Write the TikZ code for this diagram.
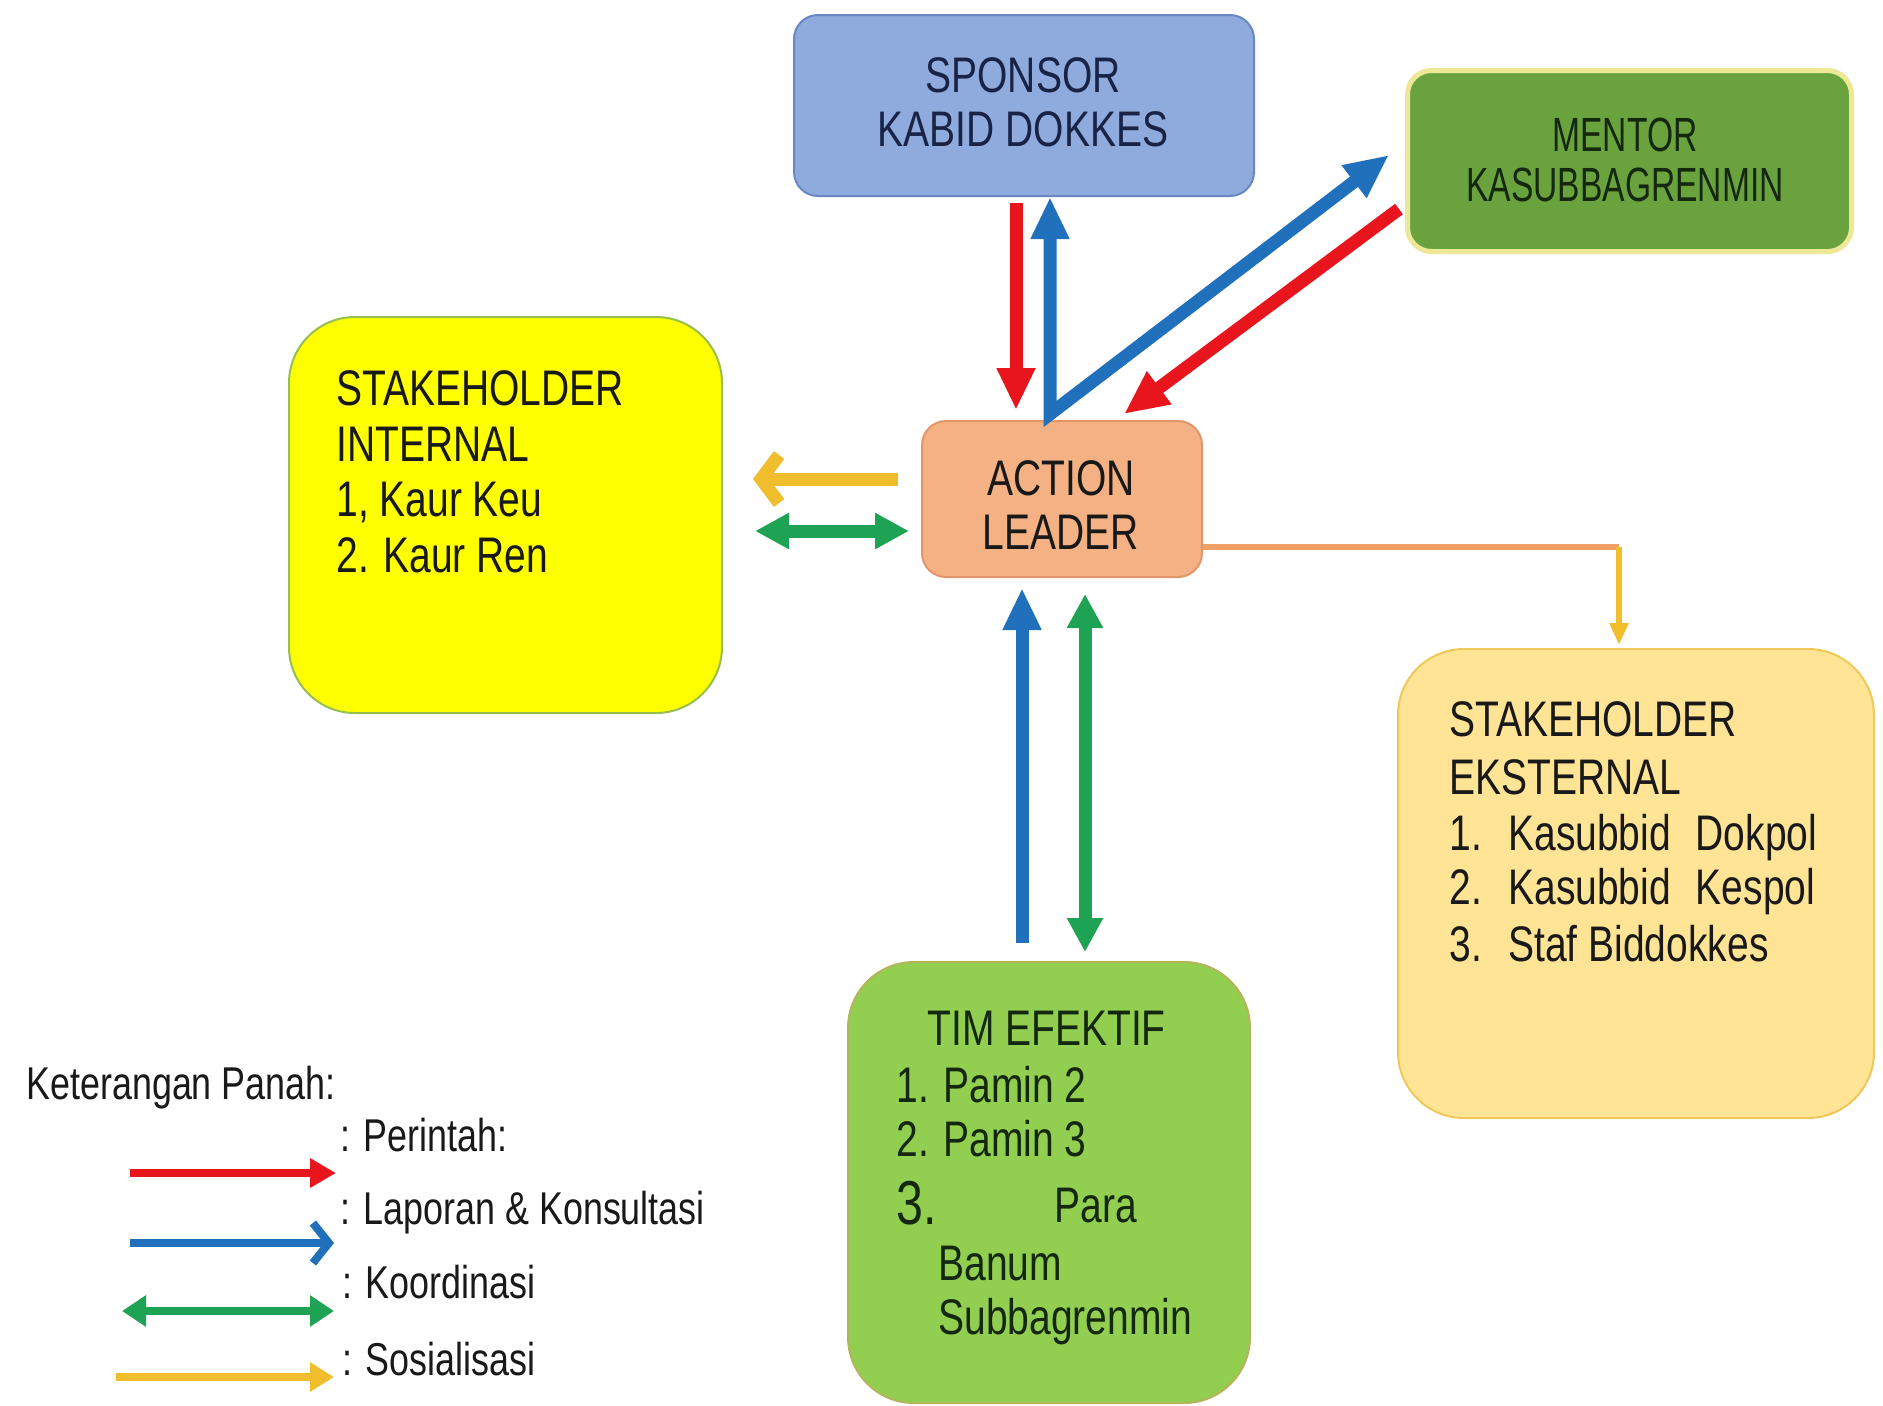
\documentclass[tikz,border=0pt]{standalone}
\usepackage{fontspec}
\setmainfont[FakeStretch=0.78]{Liberation Sans}
\newfontfamily\narrowfont[FakeStretch=0.70]{Liberation Sans}
\usetikzlibrary{arrows.meta,calc}
\definecolor{redA}{RGB}{232,22,28}
\definecolor{blueA}{RGB}{32,112,188}
\definecolor{greenA}{RGB}{30,162,84}
\definecolor{yellowA}{RGB}{240,190,45}
\definecolor{orangeA}{RGB}{240,160,100}
\definecolor{spFill}{RGB}{143,170,220}
\definecolor{spDraw}{RGB}{105,135,195}
\definecolor{mnFill}{RGB}{106,163,62}
\definecolor{mnDraw}{RGB}{236,232,150}
\definecolor{inFill}{RGB}{255,255,0}
\definecolor{inDraw}{RGB}{150,190,80}
\definecolor{alFill}{RGB}{244,177,131}
\definecolor{alDraw}{RGB}{225,150,105}
\definecolor{exFill}{RGB}{255,228,150}
\definecolor{exDraw}{RGB}{240,200,90}
\definecolor{tmFill}{RGB}{146,206,80}
\definecolor{tmDraw}{RGB}{180,180,90}
\definecolor{txtc}{RGB}{25,25,25}
\definecolor{spText}{RGB}{25,35,70}
\definecolor{mnText}{RGB}{20,40,15}
\tikzset{
  box/.style={draw, rounded corners=#1, anchor=north west, inner sep=0pt, line width=1pt},
  txt/.style={inner sep=0pt, font=\fontsize{25pt}{30pt}\selectfont, text=txtc},
  mtxt/.style={inner sep=0pt, font=\narrowfont\fontsize{24pt}{28pt}\selectfont, text=mnText},
  ltxt/.style={inner sep=0pt, font=\fontsize{23pt}{28pt}\selectfont, text=txtc},
  arr/.style={line width=6.5pt},
  larr/.style={line width=4pt},
  tri/.style={-{Triangle[length=21pt,width=18pt]}},
  tritri/.style={{Triangle[length=17pt,width=17pt]}-{Triangle[length=17pt,width=17pt]}},
  barb/.style={-{Straight Barb[length=9pt,width=24pt]}}
}
\begin{document}
\begin{tikzpicture}[x=0.5pt,y=-0.5pt]
\useasboundingbox[fill=white] (0,0) rectangle (1883,1405);

% boxes
\node[box=12pt, fill=spFill, draw=spDraw, minimum width=230pt, minimum height=90.5pt] (sponsor) at (793,14) {};
\node[box=12pt, fill=mnFill, draw=mnDraw, line width=2.5pt, minimum width=222pt, minimum height=90.5pt] (mentor) at (1405,68) {};
\node[box=33pt, fill=inFill, draw=inDraw, minimum width=216.5pt, minimum height=198pt] (internal) at (288,316) {};
\node[box=12pt, fill=alFill, draw=alDraw, minimum width=140pt, minimum height=78pt] (action) at (921,420) {};
\node[box=33pt, fill=exFill, draw=exDraw, minimum width=238pt, minimum height=234.5pt] (external) at (1397,648) {};
\node[box=33pt, fill=tmFill, draw=tmDraw, minimum width=201pt, minimum height=220.5pt] (tim) at (847,961) {};

% texts
\node[txt, text=spText, anchor=base] (spT1) at (1023,92) {SPONSOR};
\node[txt, text=spText, anchor=base] (spT2) at (1023,146) {KABID DOKKES};
\node[mtxt, anchor=base] (mnT1) at (1625,151) {MENTOR};
\node[mtxt, anchor=base] (mnT2) at (1625,201) {KASUBBAGRENMIN};
\node[txt, anchor=base] (alT1) at (1061,495) {ACTION};
\node[txt, anchor=base] (alT2) at (1061,549) {LEADER};

\node[txt, anchor=base west] (inT1) at (336,405) {STAKEHOLDER};
\node[txt, anchor=base west] (inT2) at (336,461) {INTERNAL};
\node[txt, anchor=base west] (inT3) at (336,516) {1, Kaur Keu};
\node[txt, anchor=base west] (inT4) at (336,572) {2. Kaur Ren};

\node[txt, anchor=base west] (exT1) at (1449,736) {STAKEHOLDER};
\node[txt, anchor=base west] (exT2) at (1449,794) {EKSTERNAL};
\node[txt, anchor=base west] (exN1) at (1449,850) {1.};
\node[txt, anchor=base west] (exI1) at (1508,850) {Kasubbid\hspace{7pt} Dokpol};
\node[txt, anchor=base west] (exN2) at (1449,904) {2.};
\node[txt, anchor=base west] (exI2) at (1508,904) {Kasubbid\hspace{7pt} Kespol};
\node[txt, anchor=base west] (exN3) at (1449,961) {3.};
\node[txt, anchor=base west] (exI3) at (1508,961) {Staf Biddokkes};

\node[txt, text=mnText, anchor=base west] (tmT1) at (927,1045) {TIM EFEKTIF};
\node[txt, text=mnText, anchor=base west] (tmT2) at (896,1102) {1. Pamin 2};
\node[txt, text=mnText, anchor=base west] (tmT3) at (896,1156) {2. Pamin 3};
\node[txt, text=mnText, anchor=base west, font=\fontsize{31pt}{34pt}\selectfont] (tmN3) at (896,1224) {3.};
\node[txt, text=mnText, anchor=base west] (tmT4) at (1054,1222) {Para};
\node[txt, text=mnText, anchor=base west] (tmT5) at (938,1280) {Banum};
\node[txt, text=mnText, anchor=base west] (tmT6) at (938,1334) {Subbagrenmin};

% legend
\node[ltxt, anchor=base west] (lgT) at (26,1099) {Keterangan Panah:};
\node[ltxt, anchor=base west] (lg1) at (340,1151) {: Perintah:};
\node[ltxt, anchor=base west] (lg2) at (340,1224) {: Laporan \& Konsultasi};
\node[ltxt, anchor=base west] (lg3) at (342,1298) {: Koordinasi};
\node[ltxt, anchor=base west] (lg4) at (342,1375) {: Sosialisasi};
\coordinate (l1a) at (130,1173); \coordinate (l1b) at (336,1173);
\coordinate (l2a) at (130,1243); \coordinate (l2b) at (334,1243);
\coordinate (l3a) at (122,1311); \coordinate (l3b) at (334,1311);
\coordinate (l4a) at (116,1377); \coordinate (l4b) at (334,1377);
\draw[larr, redA, -{Triangle[length=13pt,width=14pt]}] (l1a) -- (l1b);
\draw[larr, blueA, -{Straight Barb[length=8pt,width=20pt]}] (l2a) -- (l2b);
\draw[larr, greenA, {Triangle[length=12pt,width=15pt]}-{Triangle[length=12pt,width=15pt]}] (l3a) -- (l3b);
\draw[larr, yellowA, -{Triangle[length=12pt,width=14pt]}] (l4a) -- (l4b);

% connectors: sponsor / mentor
\path ([xshift=-4pt,yshift=-3pt]sponsor.south) coordinate (rs1);
\path (rs1 |- action.north) coordinate (rs2);
\draw[arr, redA, tri, shorten >=5pt] (rs1) -- (rs2);

\path ([xshift=-6pt,yshift=3pt]action.north) coordinate (vb);
\path (vb |- sponsor.south) coordinate (vbs);
\path ([xshift=-8pt,yshift=3pt]mentor.west) coordinate (vbm);
\draw[arr, blueA, line join=miter, {Triangle[length=21pt,width=18pt]}-{Triangle[length=22pt,width=19pt]}] (vbs) -- (vb) -- (vbm);

\path ([xshift=-3pt,yshift=-24pt]mentor.west) coordinate (rm1);
\path ([xshift=31pt,yshift=3pt]action.north) coordinate (rm2);
\draw[arr, redA, -{Triangle[length=22pt,width=19pt]}] (rm1) -- (rm2);

% internal
\path ([xshift=-11.5pt,yshift=10pt]action.west) coordinate (ya);
\path (ya -| internal.east) coordinate (yb);
\draw[arr, yellowA, barb, shorten >=15pt] (ya) -- (yb);
\path ([xshift=-6pt,yshift=-16pt]action.west) coordinate (ga);
\path (ga -| internal.east) coordinate (gb);
\draw[arr, greenA, tritri, shorten >=16pt] (ga) -- (gb);

% external
\path ([yshift=-24pt]action.east) coordinate (o1);
\path ([xshift=-8.5pt,yshift=1.5pt]external.north) coordinate (o3);
\path (o1 -| o3) coordinate (o2);
\draw[line width=3pt, orangeA] (o1) -- (o2);
\draw[line width=3pt, yellowA, -{Triangle[length=11pt,width=9pt]}] (o2) -- (o3);

% tim
\path ([xshift=-20pt]action.south) coordinate (bt);
\path (bt |- tim.north) coordinate (bb);
\draw[arr, blueA, tri, shorten >=5pt, shorten <=9pt] (bb) -- (bt);
\path ([xshift=11.5pt]action.south) coordinate (gt);
\path (gt |- tim.north) coordinate (gbt);
\draw[arr, greenA, tritri, shorten >=8pt, shorten <=4.5pt] (gbt) -- (gt);
\end{tikzpicture}
\end{document}
